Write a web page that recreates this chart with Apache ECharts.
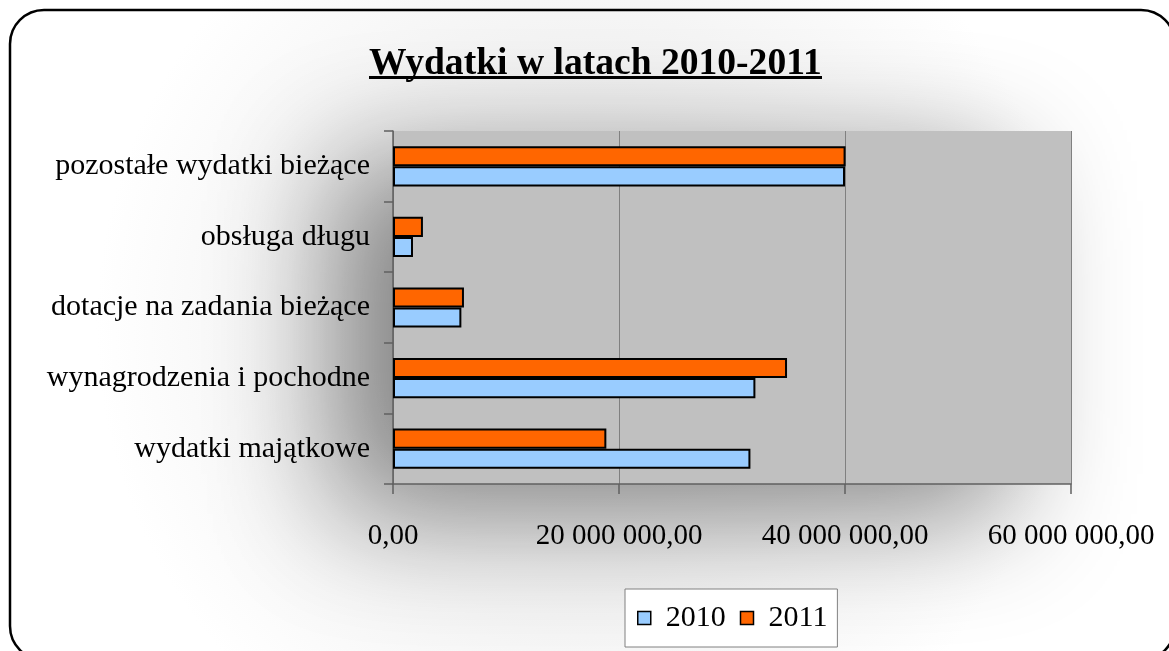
<!DOCTYPE html>
<html>
<head>
<meta charset="utf-8">
<script src="https://cdn.jsdelivr.net/npm/echarts@6/dist/echarts.min.js"></script>
<style>
html,body{margin:0;padding:0;background:#fff;}
#chart{width:1169px;height:651px;}
</style>
</head>
<body>
<div id="chart"></div>
<script>
const titleText = 'Wydatki w latach 2010-2011';
const categories = ['wydatki majątkowe', 'wynagrodzenia i pochodne', 'dotacje na zadania bieżące', 'obsługa długu', 'pozostałe wydatki bieżące'];
const seriesNames = ['2010', '2011'];
const values2010 = [31630000, 32070000, 6050000, 1770000, 40000000];
const values2011 = [18880000, 34870000, 6280000, 2650000, 40050000];
const xMin = 0, xMax = 60000000, xInterval = 20000000;

function fmt(v) {
  const s = Math.round(v).toString().replace(/\B(?=(\d{3})+(?!\d))/g, ' ');
  return s + ',00';
}

const chart = echarts.init(document.getElementById('chart'), null, {renderer: 'canvas'});
const serif = 'Liberation Serif';
chart.setOption({
  backgroundColor: {
    type: 'radial', x: 0.5, y: 0.5, r: 0.75,
    colorStops: [{offset: 0, color: '#e6e6e6'}, {offset: 0.6, color: '#f4f4f4'}, {offset: 1, color: '#ffffff'}]
  },
  animation: false,
  title: {
    text: titleText,
    left: 364,
    top: 40,
    textStyle: {fontFamily: serif, fontWeight: 'bold', fontSize: 37.6, color: '#000'}
  },
  graphic: [
    {type: 'rect', z: 100, shape: {x: 10, y: 10, width: 1165, height: 650, r: 34}, style: {fill: 'none', stroke: '#000', lineWidth: 2.5}},
    {type: 'rect', z: 100, shape: {x: 369, y: 76, width: 453, height: 3}, style: {fill: '#000'}}
  ],
  legend: {
    data: seriesNames,
    left: 625,
    top: 589,
    padding: [14, 10, 14, 12],
    itemGap: 14,
    itemWidth: 13,
    itemHeight: 13,
    icon: 'rect',
    borderColor: '#808080',
    borderWidth: 1,
    backgroundColor: '#fff',
    itemStyle: {borderColor: '#000', borderWidth: 1.5},
    textStyle: {fontFamily: serif, fontSize: 30, color: '#000', padding: [0, 0, 0, 10]}
  },
  grid: {
    left: 393, right: 98, top: 131, bottom: 167,
    show: true,
    backgroundColor: '#c0c0c0',
    borderWidth: 0,
    shadowBlur: 120,
    shadowColor: 'rgba(0,0,0,0.45)',
    shadowOffsetX: -60,
    shadowOffsetY: 30
  },
  xAxis: {
    type: 'value',
    min: xMin, max: xMax, interval: xInterval,
    axisLine: {show: true, lineStyle: {color: '#606060', width: 1.5}},
    axisTick: {show: true, length: 10, lineStyle: {color: '#606060', width: 1.5}},
    splitLine: {show: true, lineStyle: {color: '#808080', width: 1}},
    axisLabel: {formatter: fmt, fontFamily: serif, fontSize: 29, color: '#000', margin: 38}
  },
  yAxis: {
    type: 'category',
    data: categories,
    axisLine: {show: true, lineStyle: {color: '#606060', width: 1.5}},
    axisTick: {show: true, length: 9, lineStyle: {color: '#606060', width: 1.5}},
    axisLabel: {fontFamily: serif, fontSize: 30, color: '#000', margin: 23, padding: [12, 0, 0, 0]}
  },
  series: [
    {name: seriesNames[1], type: 'bar', data: values2011, barGap: '0%', barCategoryGap: '43%',
     itemStyle: {color: '#ff6600', borderColor: '#000', borderWidth: 2}},
    {name: seriesNames[0], type: 'bar', data: values2010, barGap: '0%', barCategoryGap: '43%',
     itemStyle: {color: '#99ccff', borderColor: '#000', borderWidth: 2}}
  ]
});
</script>
</body>
</html>
